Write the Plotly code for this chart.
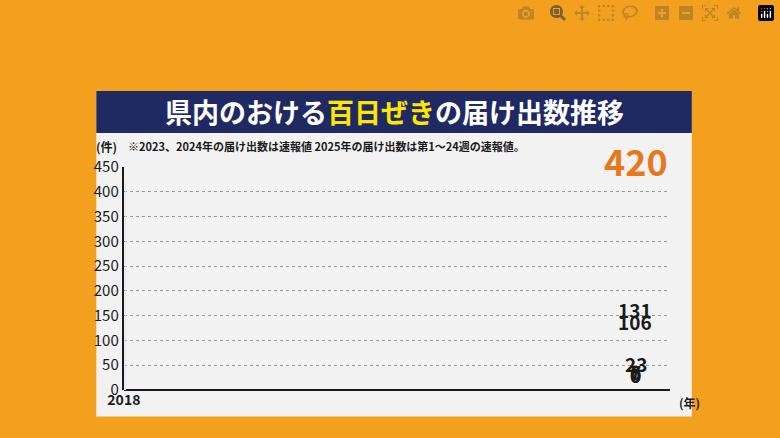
import plotly.graph_objects as go

years = ["2018", "2019", "2020", "2021", "2022", "2023", "2024", "2025"]
counts = [106, 131, 6, 0, 0, 7, 23, 420]
y_ticks = [0, 50, 100, 150, 200, 250, 300, 350, 400, 450]

W, H = 780, 438
def px(x):
    return x / W
def py(y):
    return 1 - y / H

colors = ["#f2c9a6"] * 7 + ["#e8781e"]
fig = go.Figure(go.Bar(x=years, y=counts, marker_color=colors, width=0.5))

font = "Noto Sans CJK JP"
for yr, c in zip(years, counts):
    big = yr == "2025"
    fig.add_annotation(x=yr, y=c, text=f"<b>{c}</b>", showarrow=False, yanchor="bottom",
                       yshift=-6 if big else 0,
                       font=dict(size=36 if big else 19, color="#e8781e" if big else "#1a1a1a", family=font))

fig.add_shape(type="rect", xref="paper", yref="paper", x0=px(82), x1=px(690), y0=py(425), y1=py(83),
              fillcolor="#f2f2f2", line_width=0, layer="below")
fig.add_shape(type="rect", xref="paper", yref="paper", x0=px(82), x1=px(690), y0=py(127), y1=py(83),
              fillcolor="#1f2a63", line_width=0, layer="below")
fig.add_annotation(xref="paper", yref="paper", x=px(386), y=py(105), showarrow=False, yanchor="middle",
                   text="<b>県内のおける<span style='color:#ffe600'>百日ぜき</span>の届け出数推移</b>",
                   font=dict(size=27, color="white", family=font))
fig.add_annotation(xref="paper", yref="paper", x=px(80), y=py(141), showarrow=False, xanchor="left",
                   yanchor="middle", text="<b>(件)</b>", font=dict(size=12, color="#1a1a1a", family=font))
fig.add_annotation(xref="paper", yref="paper", x=px(112), y=py(141), showarrow=False, xanchor="left",
                   yanchor="middle",
                   text="<b>※2023、2024年の届け出数は速報値 2025年の届け出数は第1～24週の速報値。</b>",
                   font=dict(size=11, color="#1a1a1a", family=font))
fig.add_annotation(xref="paper", yref="paper", x=px(688), y=py(410), showarrow=False, xanchor="center",
                   yanchor="middle", text="<b>(年)</b>", font=dict(size=12, color="#1a1a1a", family=font))

fig.update_layout(
    width=W, height=H, margin=dict(l=0, r=0, t=0, b=0),
    paper_bgcolor="#f2a01e", plot_bgcolor="rgba(0,0,0,0)", showlegend=False,
    xaxis=dict(type="category", domain=[px(110), px(668)],
               tickfont=dict(size=14, color="#1a1a1a", family=font),
               showline=False, tickprefix="<b>", ticksuffix="</b>"),
    yaxis=dict(domain=[py(397), py(163)], range=[0, 450], tickvals=y_ticks,
               tickfont=dict(size=15, color="#1a1a1a", family=font), tickprefix="<b>", ticksuffix="</b>",
               gridcolor="#9a9a9a", griddash="dot", showline=True, linecolor="#1a1a1a", linewidth=2,
               zeroline=True, zerolinecolor="#1a1a1a", zerolinewidth=2),
)
fig.write_html("out.html")

# drop the browser's default page margin so the figure fills the window
with open("out.html", encoding="utf-8") as f:
    page = f.read()
page = page.replace("<head>", "<head><style>html,body{margin:0;padding:0;overflow:hidden}</style>", 1)
with open("out.html", "w", encoding="utf-8") as f:
    f.write(page)
